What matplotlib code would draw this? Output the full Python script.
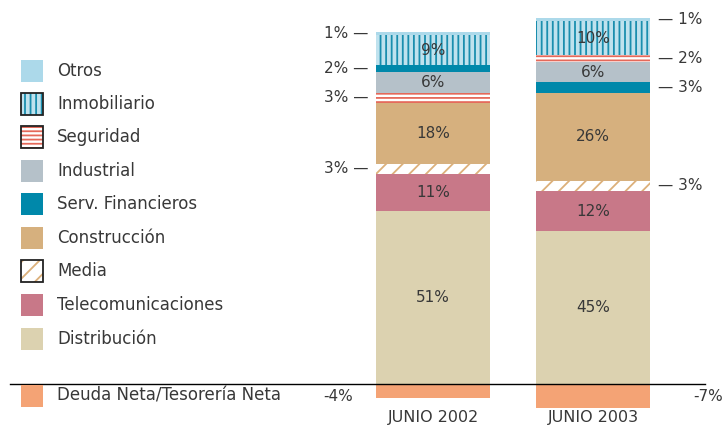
## stacked bars of portfolio by sector, june 2002 vs june 2003

import matplotlib.pyplot as plt
from matplotlib.patches import Rectangle

plt.rcParams['font.family'] = ['DejaVu Sans']
plt.rcParams['hatch.linewidth'] = 1.3

## DATA
categories = ['JUNIO 2002', 'JUNIO 2003']
otros = [1, 1]
inmobiliario = [9, 10]
seguridad = [3, 2]
industrial = [6, 6]
serv_financieros = [2, 3]
construccion = [18, 26]
media = [3, 3]
telecomunicaciones = [11, 12]
distribucion = [51, 45]
deuda_neta = [-4, -7]

## styles per sector: (label, values, facecolor, hatchcolor, hatch)
sectors = {
    'otros': ('Otros', otros, '#acd9ea', None, None),
    'inmobiliario': ('Inmobiliario', inmobiliario, '#bfe2ee', '#1a8eae', '|||'),
    'seguridad': ('Seguridad', seguridad, 'white', '#e5695a', '----'),
    'industrial': ('Industrial', industrial, '#b5c1c9', None, None),
    'serv_fin': ('Serv. Financieros', serv_financieros, '#0088aa', None, None),
    'construccion': ('Construcción', construccion, '#d6b07e', None, None),
    'media': ('Media', media, 'white', '#dcb07a', '//'),
    'telecom': ('Telecomunicaciones', telecomunicaciones, '#c87888', None, None),
    'distribucion': ('Distribución', distribucion, '#dcd2b0', None, None),
}
legend_order = ['otros', 'inmobiliario', 'seguridad', 'industrial', 'serv_fin',
                'construccion', 'media', 'telecom', 'distribucion']
# stacking order (bottom -> top) differs between the two years
stack_order = [
    ['distribucion', 'telecom', 'media', 'construccion', 'seguridad',
     'industrial', 'serv_fin', 'inmobiliario', 'otros'],
    ['distribucion', 'telecom', 'media', 'construccion', 'serv_fin',
     'industrial', 'seguridad', 'inmobiliario', 'otros'],
]

W, H = 726, 425
fig = plt.figure(figsize=(W / 100, H / 100), dpi=100)
ax = fig.add_axes([0, 0, 1, 1])
ax.set_xlim(-2.706, 1.831)
ax.set_ylim(-12.1, 113.3)
ax.axis('off')

text_col = '#383838'
bar_w = 0.71
fs = 11

for i, cat in enumerate(categories):
    bottom = 0
    for key in stack_order[i]:
        label, vals, fc, hc, hatch = sectors[key]
        v = vals[i]
        if hatch:
            ax.bar(i, v, bar_w, bottom=bottom, color=fc, edgecolor=hc,
                   hatch=hatch, linewidth=0)
        else:
            ax.bar(i, v, bar_w, bottom=bottom, color=fc, linewidth=0)
        mid = bottom + v / 2
        if v >= 6:
            ax.text(i, mid, f'{v}%', ha='center', va='center',
                    fontsize=fs, color=text_col)
        else:
            if i == 0:
                ax.text(i - bar_w / 2 - 0.05, mid, f'{v}% —', ha='right',
                        va='center', fontsize=fs, color=text_col)
            else:
                ax.text(i + bar_w / 2 + 0.05, mid, f'— {v}%', ha='left',
                        va='center', fontsize=fs, color=text_col)
        bottom += v
    # net debt below zero
    ax.bar(i, deuda_neta[i], bar_w, color='#f4a375', linewidth=0)
    ax.text(i, -9.8, cat, ha='center', va='center', fontsize=11.5, color=text_col)

ax.text(-0.59, -3.6, f'{deuda_neta[0]}%', ha='center', va='center',
        fontsize=fs, color=text_col)
ax.text(1.81, -3.6, f'{deuda_neta[1]}%', ha='right', va='center',
        fontsize=fs, color=text_col)

# zero line
ax.plot([-2.644, 1.7], [0, 0], color='black', lw=1)

## legend drawn by hand, in pixel coordinates
def fx(px):
    return px / W

def fy(py):
    return 1 - py / H

legend_y = [71, 104, 137, 171, 204, 238, 271, 305, 339]
for key, y in zip(legend_order, legend_y):
    label, vals, fc, hc, hatch = sectors[key]
    if hatch:
        r = Rectangle((fx(21), fy(y + 11)), 22 / W, 22 / H, transform=fig.transFigure,
                      facecolor=fc, edgecolor=hc, hatch=hatch, linewidth=0)
        fig.add_artist(r)
        fig.add_artist(Rectangle((fx(21), fy(y + 11)), 22 / W, 22 / H,
                                 transform=fig.transFigure, fill=False,
                                 edgecolor='#222222', linewidth=1.3))
    else:
        fig.add_artist(Rectangle((fx(21), fy(y + 11)), 22 / W, 22 / H,
                                 transform=fig.transFigure, facecolor=fc,
                                 linewidth=0))
    fig.text(fx(57), fy(y), label, ha='left', va='center', fontsize=12,
             color=text_col)

fig.add_artist(Rectangle((fx(21), fy(407)), 22 / W, 22 / H,
                         transform=fig.transFigure, facecolor='#f4a375',
                         linewidth=0))
fig.text(fx(57), fy(396), 'Deuda Neta/Tesorería Neta', ha='left', va='center',
         fontsize=12, color=text_col)

fig.savefig('out.png', dpi=100)
